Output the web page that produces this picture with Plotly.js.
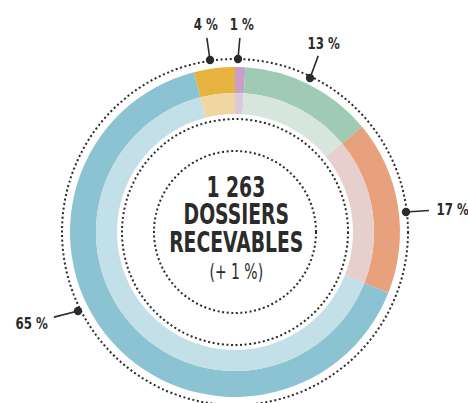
<!DOCTYPE html>
<html>
<head>
<meta charset="utf-8">
<script src="https://cdn.plot.ly/plotly-3.0.1.min.js"></script>
<style>
html,body{margin:0;padding:0;background:#fff;}
#chart{width:468px;height:403px;}
</style>
</head>
<body>
<div id="chart"></div>
<script>
// Data (clockwise from 12 o'clock)
const categories = ['Catégorie A', 'Catégorie B', 'Catégorie C', 'Catégorie D', 'Catégorie E'];
const values = [1, 13, 17, 65, 4];
const darkColors = ['#c99fca', '#9fcab4', '#e8a17d', '#8cc3d2', '#e6b43e'];
const lightColors = ['#dcc8de', '#d6e6dd', '#e6cfcd', '#c3dfe8', '#f0d6a0'];
const centerLines = ['1 263', 'DOSSIERS', 'RECEVABLES', '(+ 1 %)'];

const W = 468, H = 403;
const cx = 235, cy = 232;
const px = x => x / W;
const py = y => 1 - y / H;

const FONT = '"DejaVu Sans Condensed", "Liberation Sans Narrow", sans-serif';

function dom(r) {
  return { x: [px(cx - r), px(cx + r)], y: [py(cy + r), py(cy - r)] };
}

const outer = {
  type: 'pie', labels: categories, values: values, sort: false,
  direction: 'clockwise', rotation: 0, hole: 139 / 165,
  domain: dom(165), textinfo: 'none', hoverinfo: 'label+value',
  marker: { colors: darkColors, line: { width: 0 } }, showlegend: false
};
const inner = {
  type: 'pie', labels: categories, values: values, sort: false,
  direction: 'clockwise', rotation: 0, hole: 118 / 139,
  domain: dom(139), textinfo: 'none', hoverinfo: 'label+value',
  marker: { colors: lightColors, line: { width: 0 } }, showlegend: false
};

function circ(r, w, dash) {
  return {
    type: 'circle', xref: 'paper', yref: 'paper',
    x0: px(cx - r), x1: px(cx + r), y0: py(cy + r), y1: py(cy - r),
    line: { color: '#2b2b2b', width: w, dash: dash }
  };
}

// label anchor (dot) and text positions in pixels
const dots = [[238, 59], [310, 78], [406, 212], [78, 311], [210, 60]];
const texts = [[241, 25], [323, 43], [452, 209], [31, 323], [205, 25]];

const annotations = values.map((v, i) => ({
  xref: 'paper', yref: 'paper',
  x: px(dots[i][0]), y: py(dots[i][1]),
  ax: texts[i][0] - dots[i][0], ay: texts[i][1] - dots[i][1],
  text: '<b>' + v + ' %</b>', showarrow: true,
  arrowhead: 6, arrowsize: 1.3, arrowwidth: 1.6, arrowcolor: '#2b2b2b',
  standoff: 0, startstandoff: 2,
  font: { family: FONT, size: 16, color: '#2b2b2b' }
}));

const centerY = [187, 214, 242, 272];
const centerSize = [29, 29, 29, 21];
centerLines.forEach((t, i) => {
  annotations.push({
    xref: 'paper', yref: 'paper', x: px(cx + 1), y: py(centerY[i]),
    text: i < 3 ? '<b>' + t + '</b>' : t, showarrow: false,
    xanchor: 'center', yanchor: 'middle',
    font: { family: FONT, size: centerSize[i], color: '#2b2b2b' }
  });
});

const layout = {
  width: W, height: H,
  margin: { l: 0, r: 0, t: 0, b: 0, pad: 0 },
  paper_bgcolor: '#ffffff', plot_bgcolor: '#ffffff',
  showlegend: false,
  shapes: [circ(173, 2, '2px,2.6px'), circ(113, 2, '2px,2.6px'), circ(81, 2, '2px,2.6px')],
  annotations: annotations
};

// horizontal condensing of label texts (the reference uses a condensed face)
function condense() {
  const nodes = document.querySelectorAll('#chart .annotation-text');
  nodes.forEach((el, i) => {
    const s = i < values.length ? 0.82 : (i === values.length + 3 ? 0.74 : 0.72);
    const b = el.getBBox();
    const c = b.x + b.width / 2;
    el.setAttribute('transform', 'translate(' + c + ',0) scale(' + s + ',1) translate(' + (-c) + ',0)');
  });
}

Plotly.newPlot('chart', [outer, inner], layout, { displayModeBar: false, staticPlot: true }).then(condense);
</script>
</body>
</html>
